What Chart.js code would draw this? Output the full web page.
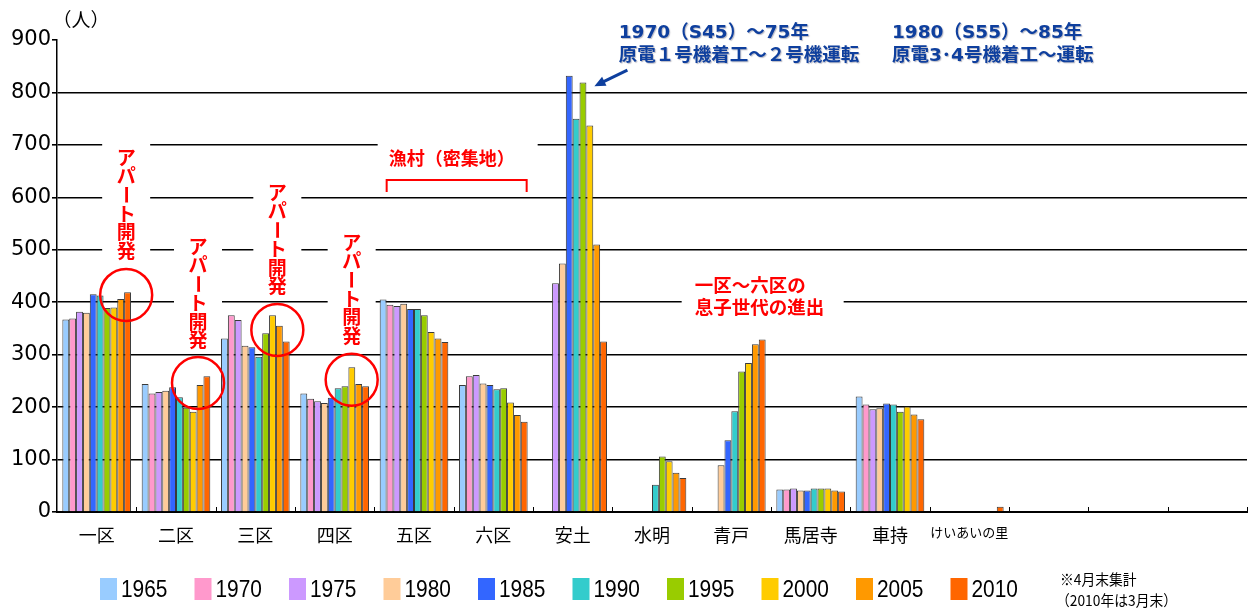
<!DOCTYPE html>
<html>
<head>
<meta charset="utf-8">
<script src="https://cdn.jsdelivr.net/npm/chart.js@4.4.1/dist/chart.umd.min.js"></script>
<style>
  html, body { margin: 0; padding: 0; background: #fff; }
  #wrap { width: 1253px; height: 615px; position: relative; }
</style>
</head>
<body>
<div id="wrap"><canvas id="c" width="1253" height="615"></canvas></div>
<script>
// 地区（最後の3枠は空欄）
const districts = ['一区', '二区', '三区', '四区', '五区', '六区', '安土', '水明', '青戸', '馬居寺', '車持', 'けいあいの里', '', '', ''];
const years = ['1965', '1970', '1975', '1980', '1985', '1990', '1995', '2000', '2005', '2010'];
const yTicks = [0, 100, 200, 300, 400, 500, 600, 700, 800, 900];

// 年別・地区別人口（人）
const pop1965 = [367, 244, 331, 226, 405, 242, null, null, null, 43, 220, null, null, null, null];
const pop1970 = [369, 226, 375, 216, 395, 259, null, null, null, 43, 205, null, null, null, null];
const pop1975 = [382, 229, 366, 211, 393, 261, 436, null, null, 45, 196, null, null, null, null];
const pop1980 = [380, 231, 317, 208, 397, 245, 474, null, 89, 41, 198, null, null, null, null];
const pop1985 = [415, 238, 314, 218, 387, 242, 832, null, 137, 41, 207, null, null, null, null];
const pop1990 = [413, 219, 296, 236, 387, 234, 750, 52, 192, 45, 205, null, null, null, null];
const pop1995 = [389, 199, 341, 240, 375, 236, 819, 106, 268, 45, 191, null, null, null, null];
const pop2000 = [390, 191, 375, 276, 343, 209, 737, 97, 284, 45, 201, null, null, null, null];
const pop2005 = [406, 242, 355, 244, 331, 185, 510, 75, 320, 41, 186, null, null, null, null];
const pop2010 = [419, 259, 325, 240, 324, 172, 325, 65, 329, 39, 177, 10, null, null, null];

const seriesValues = [pop1965, pop1970, pop1975, pop1980, pop1985, pop1990, pop1995, pop2000, pop2005, pop2010];
const seriesColors = ['#99CCFF', '#FF99CC', '#CC99FF', '#FFCC99', '#3366FF', '#33CCCC', '#99CC00', '#FFCC00', '#FF9900', '#FF6600'];

const JP = '"Noto Sans CJK JP", "Noto Sans", sans-serif';
const BLUE_FONT = '"DejaVu Sans", "Noto Sans CJK JP", sans-serif';
const RED = '#FF0000';
const BLUE = '#0E3F9E';

// 「アパート開発」の縦書き注記：地区番号・横ずれ・文字上端の値・丸印の値
const apartNotes = [
  { cat: 0, dx: 29.5, topValue: 694, circleValue: 414 },
  { cat: 1, dx: 22,   topValue: 524, circleValue: 246 },
  { cat: 2, dx: 22,   topValue: 627, circleValue: 347 },
  { cat: 3, dx: 17,   topValue: 532, circleValue: 252 }
];
const CHAR_STEP = 18.7;

function drawVertical(ctx, text, x, top, step) {
  [...text].forEach((ch, i) => {
    const y = top + step * (i + 0.5);
    if (ch === 'ー') {
      ctx.save();
      ctx.translate(x, y);
      ctx.rotate(Math.PI / 2);
      ctx.fillText(ch, 0, 0);
      ctx.restore();
    } else {
      ctx.fillText(ch, x, y);
    }
  });
}

const annotationPlugin = {
  id: 'districtNotes',
  // 注記の背景（白抜き）は目盛線の上、棒の下に置く
  beforeDatasetsDraw(chart) {
    const { ctx, scales: { x, y } } = chart;
    ctx.save();
    ctx.fillStyle = '#fff';
    apartNotes.forEach(n => {
      const cx = x.getPixelForValue(n.cat) + n.dx;
      const top = y.getPixelForValue(n.topValue);
      ctx.fillRect(cx - 24, top - 10, 48, CHAR_STEP * 6 + 12);
    });
    const cxFish = (x.getPixelForValue(4) + x.getPixelForValue(5)) / 2;
    ctx.fillRect(cxFish - 76, y.getPixelForValue(715), 160, 50);
    const leftSon = (x.getPixelForValue(7) + x.getPixelForValue(8)) / 2;
    ctx.fillRect(leftSon - 10, y.getPixelForValue(460), 162, 50);
    ctx.restore();
  },
  afterDatasetsDraw(chart) {
    const { ctx, scales: { x, y }, chartArea } = chart;
    ctx.save();

    // 区切りの小さな目盛（内向き）
    const half = (x.getPixelForValue(1) - x.getPixelForValue(0)) / 2;
    ctx.strokeStyle = '#000';
    ctx.lineWidth = 1;
    for (let i = 0; i < districts.length; i++) {
      const bx = Math.round(x.getPixelForValue(i) + half) + 0.5;
      ctx.beginPath();
      ctx.moveTo(bx, chartArea.bottom - 5);
      ctx.lineTo(bx, chartArea.bottom);
      ctx.stroke();
    }

    // アパート開発
    ctx.fillStyle = RED;
    ctx.strokeStyle = RED;
    ctx.textAlign = 'center';
    ctx.textBaseline = 'middle';
    ctx.font = `bold 19px ${JP}`;
    apartNotes.forEach(n => {
      const cx = x.getPixelForValue(n.cat) + n.dx;
      drawVertical(ctx, 'アパート開発', cx, y.getPixelForValue(n.topValue), CHAR_STEP);
      ctx.lineWidth = 2.5;
      ctx.beginPath();
      ctx.arc(cx, y.getPixelForValue(n.circleValue), 26, 0, Math.PI * 2);
      ctx.stroke();
    });

    // 漁村（密集地）と括弧
    const cxFish = (x.getPixelForValue(4) + x.getPixelForValue(5)) / 2;
    ctx.font = `bold 18px ${JP}`;
    ctx.fillText('漁村（密集地）', cxFish - 2, y.getPixelForValue(674));
    ctx.lineWidth = 2;
    const by = y.getPixelForValue(633);
    ctx.beginPath();
    ctx.moveTo(cxFish - 67, by + 12);
    ctx.lineTo(cxFish - 67, by);
    ctx.lineTo(cxFish + 73, by);
    ctx.lineTo(cxFish + 73, by + 12);
    ctx.stroke();

    // 一区～六区の息子世代の進出
    const leftSon = (x.getPixelForValue(7) + x.getPixelForValue(8)) / 2 + 3;
    ctx.textAlign = 'left';
    ctx.font = `bold 18.5px ${JP}`;
    ctx.fillText('一区～六区の', leftSon, y.getPixelForValue(433));
    ctx.fillText('息子世代の進出', leftSon, y.getPixelForValue(391));

    // 原電の着工・運転期間（青字）
    ctx.fillStyle = BLUE;
    ctx.shadowColor = 'rgba(60,60,90,0.35)';
    ctx.shadowOffsetX = 1;
    ctx.shadowOffsetY = 1;
    ctx.shadowBlur = 1;
    ctx.font = `bold 18.5px ${BLUE_FONT}`;
    const b1 = x.getPixelForValue(6) + 46;
    ctx.fillText('1970（S45）～75年', b1, 33);
    ctx.fillText('原電１号機着工～２号機運転', b1, 56);
    const b2 = x.getPixelForValue(10) + 2;
    ctx.fillText('1980（S55）～85年', b2, 33);
    ctx.fillText('原電3･4号機着工～運転', b2, 56);
    ctx.shadowColor = 'rgba(0,0,0,0)';

    // 矢印（1995年の安土を指す）
    const barW = (x.getPixelForValue(1) - x.getPixelForValue(0)) * 0.865 / years.length;
    const headX = x.getPixelForValue(6) + barW * 2 + 8;
    const headY = y.getPixelForValue(812);
    const tailX = headX + 33, tailY = headY - 16;
    const ang = Math.atan2(headY - tailY, headX - tailX);
    ctx.strokeStyle = BLUE;
    ctx.lineWidth = 3;
    ctx.beginPath();
    ctx.moveTo(tailX, tailY);
    ctx.lineTo(headX - 8 * Math.cos(ang), headY - 8 * Math.sin(ang));
    ctx.stroke();
    ctx.beginPath();
    ctx.moveTo(headX, headY);
    ctx.lineTo(headX - 11 * Math.cos(ang) + 5 * Math.sin(ang), headY - 11 * Math.sin(ang) - 5 * Math.cos(ang));
    ctx.lineTo(headX - 11 * Math.cos(ang) - 5 * Math.sin(ang), headY - 11 * Math.sin(ang) + 5 * Math.cos(ang));
    ctx.closePath();
    ctx.fill();

    // 単位
    ctx.fillStyle = '#000';
    ctx.textAlign = 'center';
    ctx.font = `19px ${JP}`;
    ctx.fillText('（人）', 81, 20);
    ctx.restore();
  }
};

const legendPlugin = {
  id: 'yearLegend',
  afterDraw(chart) {
    const ctx = chart.ctx;
    ctx.save();
    ctx.textBaseline = 'middle';
    ctx.textAlign = 'left';
    const x0 = 100, step = 94.5, cy = 589;
    chart.data.datasets.forEach((ds, i) => {
      const bx = x0 + i * step;
      ctx.fillStyle = ds.backgroundColor;
      ctx.fillRect(bx, cy - 11, 17, 22);
      ctx.fillStyle = '#000';
      ctx.font = '24px "Liberation Sans", sans-serif';
      ctx.save();
      ctx.translate(bx + 21, cy + 1);
      ctx.scale(0.87, 1);
      ctx.fillText(ds.label, 0, 0);
      ctx.restore();
    });
    ctx.font = `15px ${JP}`;
    ctx.save();
    ctx.translate(1060, 579);
    ctx.scale(0.92, 1);
    ctx.fillText('※4月末集計', 0, 0);
    ctx.restore();
    ctx.save();
    ctx.translate(1056, 600);
    ctx.scale(0.92, 1);
    ctx.fillText('（2010年は3月末）', 0, 0);
    ctx.restore();
    ctx.restore();
  }
};

new Chart(document.getElementById('c'), {
  type: 'bar',
  data: {
    labels: districts,
    datasets: years.map((yr, i) => ({
      label: yr,
      data: seriesValues[i],
      backgroundColor: seriesColors[i],
      borderColor: '#3a3a3a',
      borderWidth: 1,
      categoryPercentage: 0.865,
      barPercentage: 1.0
    }))
  },
  options: {
    responsive: false,
    animation: false,
    devicePixelRatio: 1,
    layout: { padding: { top: 40, right: 6, bottom: 0, left: 0 } },
    plugins: {
      legend: { display: false },
      tooltip: { enabled: false }
    },
    scales: {
      x: {
        grid: { display: false, drawTicks: false },
        border: { display: true, color: '#000', width: 2 },
        ticks: {
          color: '#000',
          padding: 12,
          maxRotation: 0,
          autoSkip: false,
          font: (c) => ({ family: JP, size: c.index === 11 ? 13 : 18 })
        },
        afterFit: (s) => { s.height = 103; }
      },
      y: {
        min: 0,
        max: 900,
        afterBuildTicks: (s) => { s.ticks = yTicks.map(v => ({ value: v })); },
        grid: {
          color: (c) => (c.tick && (c.tick.value === 0 || c.tick.value === 900)) ? 'rgba(0,0,0,0)' : '#000',
          tickColor: '#000',
          lineWidth: 1.6,
          tickLength: 5
        },
        border: { display: true, color: '#000', width: 1.5 },
        ticks: {
          color: '#000',
          padding: 1,
          font: { family: '"DejaVu Sans", sans-serif', size: 21 }
        },
        afterFit: (s) => { s.width = 57; }
      }
    }
  },
  plugins: [annotationPlugin, legendPlugin]
});
</script>
</body>
</html>
